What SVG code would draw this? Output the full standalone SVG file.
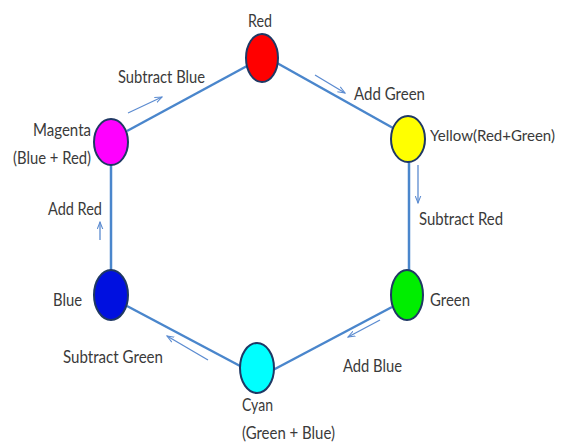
<svg xmlns="http://www.w3.org/2000/svg" width="568" height="446" viewBox="0 0 568 446">
<style>
.node{stroke:#1f3864;stroke-width:2}
.lbl{font-family:"Lato","Liberation Sans",sans-serif;font-size:18px;fill:#3a3a3a}
.edge{stroke:#4a86cc;stroke-width:2.5;fill:none}
.dir{stroke:#5b8bd0;stroke-width:1.3;fill:none}
</style>
<defs>
<marker id="ah" viewBox="0 0 10 8" refX="9" refY="4" markerWidth="8" markerHeight="7" markerUnits="userSpaceOnUse" orient="auto">
<path d="M0,0.5 L9,4 L0,7.5" fill="none" stroke="#5b8bd0" stroke-width="1.3"/>
</marker>
</defs>
<rect width="568" height="446" fill="#ffffff"/>
<g id="connectors">
<line class="edge" x1="247" y1="66" x2="127" y2="131"/>
<line class="edge" x1="277" y1="63" x2="393" y2="128"/>
<line class="edge" x1="409" y1="162" x2="409" y2="270"/>
<line class="edge" x1="111" y1="165" x2="111" y2="270"/>
<line class="edge" x1="127" y1="306" x2="242" y2="367"/>
<line class="edge" x1="273" y1="370" x2="392" y2="307"/>
<line class="dir" x1="128" y1="113" x2="162" y2="97" marker-end="url(#ah)"/>
<line class="dir" x1="315" y1="75" x2="345" y2="93" marker-end="url(#ah)"/>
<line class="dir" x1="418" y1="165" x2="418" y2="203" marker-end="url(#ah)"/>
<line class="dir" x1="380" y1="320" x2="348" y2="337" marker-end="url(#ah)"/>
<line class="dir" x1="208" y1="360" x2="167" y2="336" marker-end="url(#ah)"/>
<line class="dir" x1="100" y1="240" x2="100" y2="222" marker-end="url(#ah)"/>
<text class="lbl" x="118" y="83" textLength="87" lengthAdjust="spacingAndGlyphs">Subtract Blue</text>
<text class="lbl" x="354" y="100" textLength="71" lengthAdjust="spacingAndGlyphs">Add Green</text>
<text class="lbl" x="419" y="225" textLength="84" lengthAdjust="spacingAndGlyphs">Subtract Red</text>
<text class="lbl" x="343" y="372" textLength="59" lengthAdjust="spacingAndGlyphs">Add Blue</text>
<text class="lbl" x="63" y="363" textLength="100" lengthAdjust="spacingAndGlyphs">Subtract Green</text>
<text class="lbl" x="48" y="215" textLength="54" lengthAdjust="spacingAndGlyphs">Add Red</text>
</g>
<g id="red">
<ellipse class="node" cx="262" cy="58" rx="16" ry="24" fill="#ff0000"/>
<text class="lbl" x="248" y="27" textLength="24" lengthAdjust="spacingAndGlyphs">Red</text>
</g>
<g id="yellow">
<ellipse class="node" cx="408" cy="139" rx="17" ry="23" fill="#ffff00"/>
<text class="lbl" x="430" y="141" style="font-size:16px" textLength="125" lengthAdjust="spacingAndGlyphs">Yellow(Red+Green)</text>
</g>
<g id="green">
<ellipse class="node" cx="407" cy="295" rx="16" ry="25" fill="#00ee00"/>
<text class="lbl" x="430" y="306" textLength="40" lengthAdjust="spacingAndGlyphs">Green</text>
</g>
<g id="cyan">
<ellipse class="node" cx="257" cy="368" rx="17" ry="25" fill="#00ffff"/>
<text class="lbl" x="242" y="411" textLength="31" lengthAdjust="spacingAndGlyphs">Cyan</text>
<text class="lbl" x="242" y="439" textLength="93" lengthAdjust="spacingAndGlyphs">(Green + Blue)</text>
</g>
<g id="blue">
<ellipse class="node" cx="111" cy="295" rx="17" ry="25" fill="#0010e0"/>
<text class="lbl" x="53" y="306" textLength="29" lengthAdjust="spacingAndGlyphs">Blue</text>
</g>
<g id="magenta">
<ellipse class="node" cx="111" cy="142" rx="17" ry="23" fill="#ff00ff"/>
<text class="lbl" x="33" y="136" textLength="58" lengthAdjust="spacingAndGlyphs">Magenta</text>
<text class="lbl" x="13" y="164" textLength="78" lengthAdjust="spacingAndGlyphs">(Blue + Red)</text>
</g>
</svg>
